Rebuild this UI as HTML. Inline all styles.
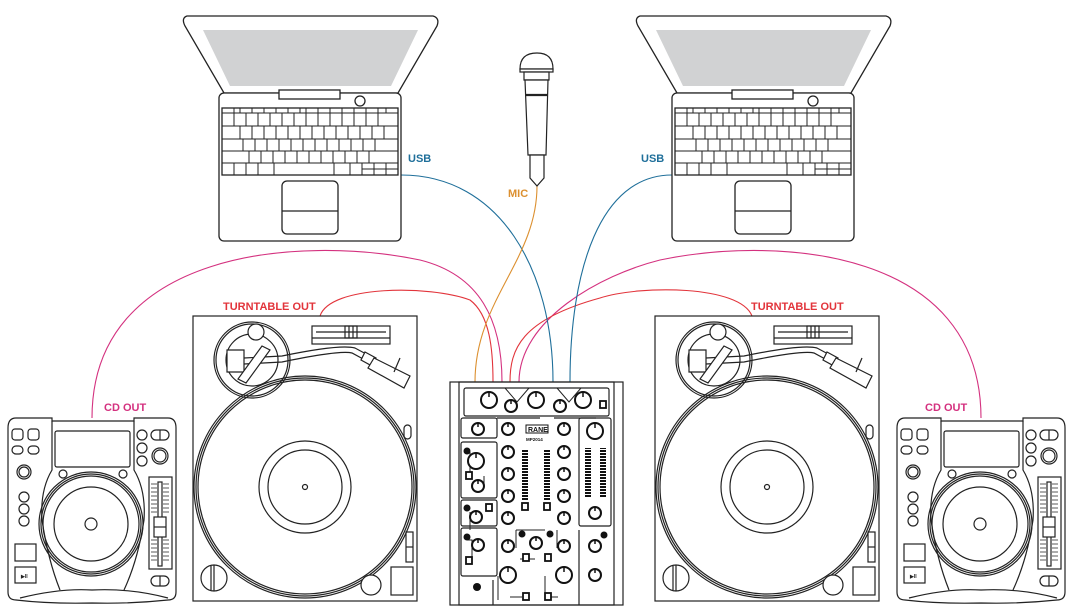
<!DOCTYPE html>
<html><head><meta charset="utf-8"><style>
html,body{margin:0;padding:0;background:#fff;}
svg{display:block}
text{font-family:"Liberation Sans",sans-serif;font-weight:bold;}
</style></head><body>
<svg width="1080" height="612" viewBox="0 0 1080 612" xmlns="http://www.w3.org/2000/svg">
<defs>
<pattern id="seg" width="6" height="3" patternUnits="userSpaceOnUse"><rect width="6" height="2" fill="#111"/></pattern>
<g id="laptop" fill="none" stroke="#222" stroke-width="1.3">
  <path d="M187,16 H433 Q440,18 437,26 L398,93 H224 L185,26 Q181,18 187,16 Z" fill="#fff"/>
  <polygon points="203,30 418,30 391,86 230,86" fill="#d1d2d3" stroke="none"/>
  <rect x="219" y="93" width="182" height="148" rx="5" fill="#fff"/>
  <rect x="279" y="90" width="61" height="9" fill="#fff"/>
  <circle cx="360" cy="101" r="5"/>
  <rect x="222" y="108" width="176" height="67"/>
  <g stroke-width="1">
    <line x1="222" y1="113" x2="398" y2="113"/>
    <line x1="222" y1="126" x2="398" y2="126"/>
    <line x1="222" y1="139" x2="398" y2="139"/>
    <line x1="222" y1="151" x2="398" y2="151"/>
    <line x1="222" y1="163" x2="398" y2="163"/>
    <path d="M234,108v5M240,108v5M252,108v5M264,108v5M276,108v5M288,108v5M300,108v5M306,108v5M318,108v5M330,108v5M342,108v5M354,108v5M366,108v5M378,108v5M386,108v5"/>
    <path d="M234,113v13M246,113v13M258,113v13M270,113v13M282,113v13M294,113v13M306,113v13M318,113v13M330,113v13M342,113v13M354,113v13M366,113v13M378,113v13"/>
    <path d="M240,126v13M252,126v13M264,126v13M276,126v13M288,126v13M300,126v13M312,126v13M324,126v13M336,126v13M348,126v13M360,126v13M372,126v13M384,126v13"/>
    <path d="M243,139v12M255,139v12M267,139v12M279,139v12M291,139v12M303,139v12M315,139v12M327,139v12M339,139v12M351,139v12M363,139v12M375,139v12"/>
    <path d="M249,151v12M261,151v12M273,151v12M285,151v12M297,151v12M309,151v12M321,151v12M333,151v12M345,151v12M357,151v12M369,151v12"/>
    <path d="M234,163v12M246,163v12M258,163v12M274,163v12M334,163v12M350,163v12M362,163v12M374,163v12M386,163v12M362,169h36"/>
  </g>
  <rect x="282" y="181" width="56" height="53" rx="5"/>
  <line x1="282" y1="211" x2="338" y2="211"/>
</g>

<g id="tt" fill="none" stroke="#222" stroke-width="1.2">
  <rect x="193" y="316" width="224" height="285" fill="#fff"/>
  <rect x="312" y="326" width="78" height="18"/>
  <line x1="312" y1="338" x2="390" y2="338"/>
  <line x1="316" y1="332" x2="386" y2="332"/>
  <rect x="345" y="326" width="12" height="12"/>
  <line x1="349" y1="326" x2="349" y2="338"/><line x1="353" y1="326" x2="353" y2="338"/>
  <circle cx="252" cy="360" r="38"/>
  <circle cx="252" cy="360" r="36"/>
  <circle cx="252" cy="360" r="26"/>
  <circle cx="256" cy="332" r="8" fill="#fff"/>
  <path d="M227,350 H244 V372 H227 Z" fill="#fff"/>
  <path d="M244,358 L282,356 Q340,344 355,348 L368,355" />
  <path d="M244,364 L282,362 Q340,350 352,353 L365,360" />
  <path d="M365,352 L376,358 L372,366 L361,360 Z" fill="#fff"/>
  <path d="M374,358 L410,376 L404,388 L368,368 Z" fill="#fff"/>
  <path d="M394,372 L400,358"/>
  <path d="M262,346 L270,350 L246,383 L238,379 Z" fill="#fff"/>
  <circle cx="305" cy="487" r="111"/>
  <circle cx="305" cy="487" r="109"/>
  <circle cx="305" cy="487" r="107"/>
  <circle cx="305" cy="487" r="46"/>
  <circle cx="305" cy="487" r="37"/>
  <circle cx="305" cy="487" r="2.5"/>
  <rect x="404" y="425" width="7" height="14" rx="3.5" fill="#fff"/>
  <rect x="406" y="532" width="7" height="30"/>
  <line x1="406" y1="547" x2="413" y2="547"/>
  <circle cx="214" cy="578" r="13" fill="#fff"/>
  <line x1="211" y1="566" x2="211" y2="590"/><line x1="214" y1="565" x2="214" y2="591"/>
  <circle cx="371" cy="585" r="10" fill="#fff"/>
  <rect x="391" y="567" width="22" height="28" fill="#fff"/>
</g>

<g id="cd" fill="none" stroke="#222" stroke-width="1.2">
  <path d="M16,418 H52 V421 H134 V418 H168 Q176,418 176,428 V592 Q176,600 168,600 Q130,604 92,603 Q50,604 16,600 Q8,600 8,592 V428 Q8,418 16,418 Z" fill="#fff"/>
  <path d="M52,421 V470 Q40,490 42,520 Q48,560 60,590 M134,421 V470 Q146,490 144,520 Q138,560 124,590"/>
  <path d="M20,598 Q60,588 92,590 Q130,588 168,598"/>
  <rect x="55" y="431" width="75" height="36" rx="2"/>
  <circle cx="63" cy="474" r="4"/><circle cx="123" cy="474" r="4"/>
  <circle cx="91" cy="524" r="52"/><circle cx="91" cy="524" r="50"/><circle cx="91" cy="524" r="48"/>
  <circle cx="91" cy="524" r="37"/>
  <circle cx="91" cy="524" r="6"/>
  <rect x="12" y="429" width="11" height="11" rx="3"/><rect x="28" y="429" width="11" height="11" rx="3"/>
  <rect x="12" y="446" width="11" height="8" rx="4"/><rect x="28" y="446" width="11" height="8" rx="4"/>
  <circle cx="24" cy="472" r="7"/><circle cx="24" cy="472" r="5"/>
  <circle cx="24" cy="497" r="5"/><circle cx="24" cy="509" r="5"/><circle cx="24" cy="521" r="5"/>
  <rect x="15" y="544" width="21" height="17"/>
  <rect x="15" y="567" width="21" height="16"/>
  <text x="21" y="578" font-size="5" fill="#222" stroke="none">▶II</text>
  <circle cx="142" cy="435" r="5"/><rect x="151" y="430" width="18" height="10" rx="5"/><line x1="160" y1="430" x2="160" y2="440"/>
  <circle cx="142" cy="448" r="5"/><circle cx="142" cy="461" r="5"/>
  <circle cx="160" cy="456" r="8"/><circle cx="160" cy="456" r="6"/>
  <rect x="149" y="477" width="23" height="92"/>
  <rect x="158" y="482" width="4" height="84"/>
  <path d="M151,484h6M151,488h6M151,492h6M151,496h6M151,500h6M151,504h6M151,508h6M151,512h6M151,540h6M151,544h6M151,548h6M151,552h6M151,556h6M151,560h6M163,484h6M163,488h6M163,492h6M163,496h6M163,500h6M163,504h6M163,508h6M163,512h6M163,540h6M163,544h6M163,548h6M163,552h6M163,556h6M163,560h6" stroke-width="0.8"/>
  <rect x="154" y="517" width="12" height="20" fill="#fff"/><line x1="154" y1="527" x2="166" y2="527"/>
  <rect x="151" y="576" width="18" height="10" rx="5"/><line x1="160" y1="576" x2="160" y2="586"/>
</g>
<g id="knob"><circle r="6" fill="#fff" stroke="#111" stroke-width="2"/><line x1="0" y1="-6" x2="0" y2="-2" stroke="#111" stroke-width="1.5"/></g>
<g id="bigknob"><circle r="8" fill="#fff" stroke="#111" stroke-width="2"/><line x1="0" y1="-8" x2="0" y2="-3" stroke="#111" stroke-width="1.5"/></g>
<g id="sq"><rect x="-3" y="-3" width="6" height="7" fill="#fff" stroke="#111" stroke-width="1.8"/></g>
</defs>

<!-- cables -->
<g fill="none" stroke-width="1.1">
  <path d="M92,418 C92,250 300,235 420,260 C480,275 502,320 502,382" stroke="#d4317f"/>
  <path d="M981,418 C981,250 780,235 660,260 C600,275 519,320 519,382" stroke="#d4317f"/>
  <path d="M320,316 C330,285 430,285 470,300 C490,315 493,350 493,382" stroke="#e2343b"/>
  <path d="M752,316 C740,285 640,285 600,298 C520,320 510,350 510,382" stroke="#e2343b"/>
  <path d="M401,175 C500,175 553,270 553,382" stroke="#1f6f9a"/>
  <path d="M672,175 C600,175 570,270 570,382" stroke="#1f6f9a"/>
  <path d="M537,186 C537,260 475,300 475,382" stroke="#dc9030"/>
</g>

<use href="#laptop"/>
<use href="#laptop" x="453"/>
<use href="#tt"/>
<use href="#tt" x="462"/>
<use href="#cd"/>
<use href="#cd" x="889"/>

<!-- mic -->
<g fill="#fff" stroke="#222" stroke-width="1.2">
  <path d="M520,69 Q520,53 537,53 Q553,53 553,69 Z"/>
  <rect x="520" y="69" width="33" height="3"/>
  <path d="M524,72 H549 V80 H524 Z"/>
  <path d="M525,80 H548 L546,155 H528 Z"/>
  <line x1="525" y1="95" x2="548" y2="95" stroke-width="2.2"/>
  <path d="M530,155 H544 V178 L537,186 L530,178 Z"/>
</g>

<!-- mixer -->
<g fill="none" stroke="#222" stroke-width="1.2">
  <rect x="450" y="382" width="173" height="223" fill="#fff"/>
  <rect x="459" y="382" width="155" height="223"/>
  <rect x="464" y="388" width="145" height="28" rx="2"/>
  <path d="M505,388 L517,402 L529,388 M557,388 L569,402 L581,388" stroke-width="1"/>
  <path d="M497,418 H540 M554,418 H596"/>
  <rect x="461" y="418" width="36" height="20" rx="2"/>
  <rect x="461" y="442" width="36" height="56" rx="2"/>
  <rect x="461" y="500" width="36" height="26" rx="2"/>
  <rect x="461" y="528" width="36" height="48" rx="2"/>
  <rect x="579" y="418" width="32" height="108" rx="2"/>
  <path d="M579,530 V605 M493,580 V605"/>
  <path d="M470,452 V476 M484,476 V488 M470,512 V530 M467,540 H472 V558 M516,530 H545 M516,530 V548 M557,530 V548 M520,559 H535 M498,576 V600 M545,576 V600 M510,597 H522 M558,597 H548" stroke-width="1"/>
</g>
<g>
  <rect x="522" y="450" width="6" height="50" fill="url(#seg)"/>
  <rect x="544" y="450" width="6" height="50" fill="url(#seg)"/>
  <rect x="585" y="448" width="6" height="50" fill="url(#seg)"/>
  <rect x="600" y="448" width="6" height="50" fill="url(#seg)"/>
</g>
<g fill="#111">
  <circle cx="467" cy="451" r="3.5"/><circle cx="467" cy="508" r="3.5"/><circle cx="467" cy="537" r="3.5"/>
  <circle cx="522" cy="534" r="3.5"/><circle cx="550" cy="534" r="3.5"/><circle cx="604" cy="535" r="3.5"/>
  <circle cx="477" cy="587" r="4"/>
</g>
<use href="#bigknob" x="489" y="400"/><use href="#bigknob" x="536" y="400"/><use href="#bigknob" x="583" y="400"/>
<use href="#knob" x="511" y="406"/><use href="#knob" x="560" y="406"/>
<use href="#sq" x="603" y="404"/>
<use href="#knob" x="478" y="429"/>
<use href="#bigknob" x="476" y="461"/><use href="#knob" x="478" y="486"/>
<use href="#sq" x="469" y="475"/>
<use href="#knob" x="476" y="517"/><use href="#sq" x="489" y="507"/>
<use href="#knob" x="478" y="545"/><use href="#sq" x="469" y="560"/>
<use href="#knob" x="508" y="429"/><use href="#knob" x="564" y="429"/>
<use href="#knob" x="508" y="452"/><use href="#knob" x="508" y="474"/><use href="#knob" x="508" y="496"/><use href="#knob" x="508" y="518"/>
<use href="#knob" x="564" y="452"/><use href="#knob" x="564" y="474"/><use href="#knob" x="564" y="496"/><use href="#knob" x="564" y="518"/>
<use href="#sq" x="525" y="506"/><use href="#sq" x="547" y="506"/>
<use href="#knob" x="508" y="546"/><use href="#knob" x="564" y="546"/><use href="#knob" x="536" y="543"/>
<use href="#sq" x="526" y="557"/><use href="#sq" x="548" y="557"/>
<use href="#bigknob" x="508" y="575"/><use href="#bigknob" x="564" y="575"/>
<use href="#sq" x="526" y="596"/><use href="#sq" x="548" y="596"/>
<use href="#bigknob" x="595" y="431"/><use href="#knob" x="595" y="513"/>
<use href="#knob" x="595" y="546"/><use href="#knob" x="595" y="575"/>
<rect x="526" y="425" width="22" height="8" fill="#fff" stroke="#111" stroke-width="1"/>
<text x="528" y="432" font-size="7" fill="#111" font-family="Liberation Serif">RANE</text>
<text x="526" y="441" font-size="4.5" fill="#111" font-family="Liberation Serif">MP2014</text>

<!-- labels -->
<text x="408" y="162" font-size="11" fill="#1f6f9a">USB</text>
<text x="641" y="162" font-size="11" fill="#1f6f9a">USB</text>
<text x="508" y="197" font-size="11" fill="#dc9030">MIC</text>
<text x="223" y="310" font-size="11" fill="#e2343b">TURNTABLE OUT</text>
<text x="751" y="310" font-size="11" fill="#e2343b">TURNTABLE OUT</text>
<text x="104" y="411" font-size="11" fill="#d4317f">CD OUT</text>
<text x="925" y="411" font-size="11" fill="#d4317f">CD OUT</text>
</svg>
</body></html>
